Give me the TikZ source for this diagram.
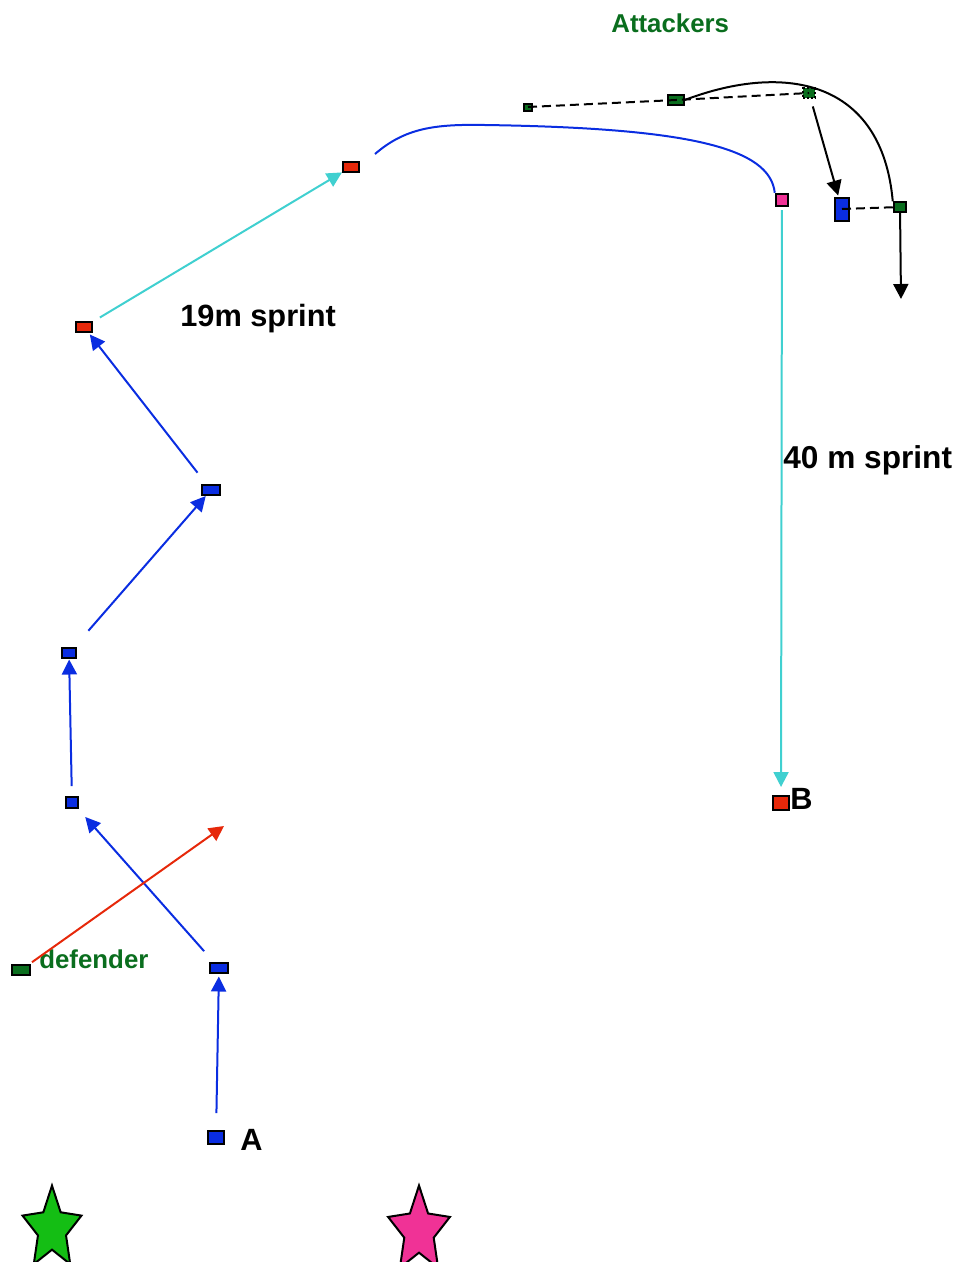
\documentclass[tikz,border=0pt]{standalone}
\usepackage{fontspec}
\setmainfont{Liberation Sans}
\usepackage{xcolor}
\usepackage{tikz}
\usetikzlibrary{arrows.meta}
\usetikzlibrary{shapes.geometric}
\pgfdeclarelayer{nodelayer}
\pgfdeclarelayer{edgelayer}
\pgfsetlayers{nodelayer,edgelayer,main}

\definecolor{runblue}{RGB}{10,45,225}
\definecolor{runred}{RGB}{230,40,10}
\definecolor{runcyan}{RGB}{64,208,208}
\definecolor{teamgreen}{RGB}{10,110,30}
\definecolor{runpink}{RGB}{240,50,150}
\definecolor{stargreen}{RGB}{20,190,20}

\tikzset{
  player/.style={draw=black, line width=0.04cm, rectangle, inner sep=0pt},
  box/.style 2 args={minimum width=#1cm, minimum height=#2cm},
  blue player/.style={player, fill=runblue},
  red player/.style={player, fill=runred},
  green player/.style={player, fill=teamgreen},
  pink player/.style={player, fill=runpink},
  cone/.style={star, star points=5, star point ratio=2.1, draw=black,
    line width=0.04cm, inner sep=0pt, minimum size=#1cm, yscale=1.4, transform shape},
  big text/.style={font=\bfseries\fontsize{17.5}{20}\selectfont, inner sep=0pt, anchor=base west},
  team text/.style={font=\bfseries\fontsize{14.7}{17}\selectfont, text=teamgreen, inner sep=0pt, anchor=base west},
  headed/.style={-{Triangle[length=0.3cm, width=0.3cm]}},
  blue run/.style={draw=runblue, line width=0.04cm, headed},
  cyan run/.style={draw=runcyan, line width=0.04cm, headed},
  red run/.style={draw=runred, line width=0.04cm, headed},
  black run/.style={draw=black, line width=0.04cm, headed},
  pass line/.style={draw=black, line width=0.04cm, dash pattern=on 0.18cm off 0.1cm},
}

\begin{document}
\begin{tikzpicture}[x=0.02cm, y=-0.02cm]
  \useasboundingbox (0,0) rectangle (961,1262);
  \begin{pgfonlayer}{nodelayer}
    \node [blue player, box={0.31}{0.26}] (0) at (216, 1137) {};
    \node [blue player, box={0.37}{0.21}] (1) at (219, 968) {};
    \node [blue player, box={0.26}{0.22}] (2) at (72, 802) {};
    \node [blue player, box={0.27}{0.21}] (3) at (69, 653) {};
    \node [blue player, box={0.37}{0.21}] (4) at (211, 490) {};
    \node [red player, box={0.32}{0.21}] (5) at (84, 327) {};
    \node [red player, box={0.32}{0.21}] (6) at (351, 167) {};
    \node [pink player, box={0.25}{0.25}] (7) at (782, 200) {};
    \node [red player, box={0.31}{0.27}] (8) at (781, 803) {};
    \node [green player, box={0.37}{0.21}] (9) at (21, 970) {};
    \node [green player, box={0.15}{0.14}] (10) at (528, 107) {};
    \node [green player, box={0.31}{0.19}] (11) at (676, 100) {};
    \node [green player, box={0.24}{0.19}, dash pattern=on 0.04cm off 0.04cm] (12) at (809, 93) {};
    \node [blue player, box={0.29}{0.46}] (13) at (842, 209) {};
    \node [green player, box={0.25}{0.19}] (14) at (900, 207) {};
    \node [team text] (15) at (611, 32) {Attackers};
    \node [big text] (16) at (180, 326) {19m sprint};
    \node [big text, font=\bfseries\fontsize{18}{20}\selectfont] (17) at (783, 468) {40 m sprint};
    \node [team text] (18) at (39, 968) {defender};
    \node [big text] (19) at (240, 1150) {A};
    \node [big text] (20) at (790, 809) {B};
    \node [cone=1.24, fill=stargreen] (21) at (52, 1229) {};
    \node [cone=1.3, fill=runpink] (22) at (419, 1231) {};
    \coordinate (23) at (375, 154);
    \coordinate (24) at (224, 826);
    \coordinate (25) at (901, 299);
    \coordinate (26) at (485, 125);
  \end{pgfonlayer}
  \begin{pgfonlayer}{edgelayer}
    \draw [blue run, shorten <=0.48cm, shorten >=0.17cm] (0.center) to (1.center);
    \draw [blue run, shorten <=0.45cm, shorten >=0.4cm] (1.center) to (2.center);
    \draw [blue run, shorten <=0.32cm, shorten >=0.13cm] (2.center) to (3.center);
    \draw [blue run, shorten <=0.59cm, shorten >=0.16cm] (3.center) to (4.center);
    \draw [blue run, shorten <=0.44cm, shorten >=0.19cm] (4.center) to (5.center);
    \draw [cyan run, shorten <=0.37cm, shorten >=0.21cm] (5.center) to (6.center);
    \draw [draw=runblue, line width=0.04cm] (23) .. controls (405, 128) and (435, 124) .. (26)
      .. controls (690, 128) and (770, 148) .. (7.north west);
    \draw [cyan run, shorten <=0.2cm, shorten >=0.32cm] (7.center) to (8.center);
    \draw [red run, shorten <=0.27cm] (9.center) to (24);
    \draw [pass line] (10.center) to (11.center) to (12.center);
    \draw [black run, shorten <=0.28cm, shorten >=0.28cm] (12.center) to (13.center);
    \draw [draw=black, line width=0.04cm] (11.east) .. controls (785, 62) and (882, 80) .. (14.north west);
    \draw [pass line] (13.center) to (14);
    \draw [black run] (14) to (25);
  \end{pgfonlayer}
\end{tikzpicture}
\end{document}
